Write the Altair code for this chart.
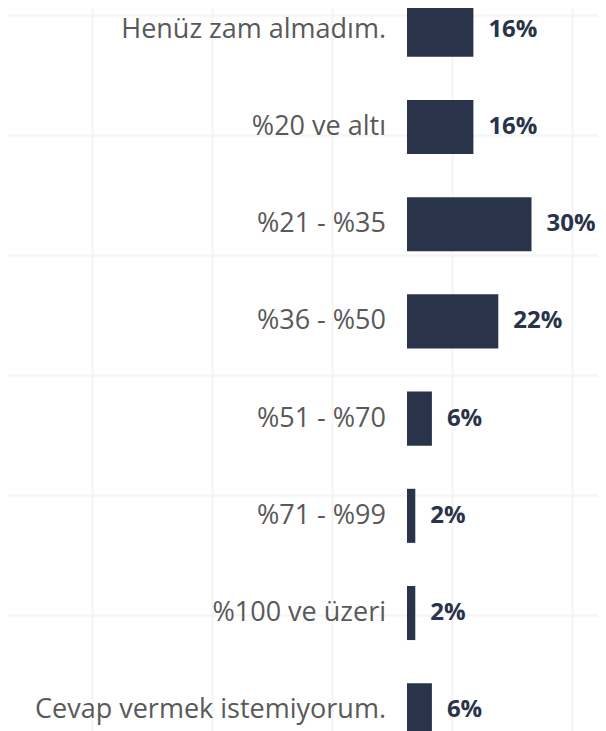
import altair as alt
import pandas as pd

categories = [
    "Henüz zam almadım.",
    "%20 ve altı",
    "%21 - %35",
    "%36 - %50",
    "%51 - %70",
    "%71 - %99",
    "%100 ve üzeri",
    "Cevap vermek istemiyorum.",
]
values = [16, 16, 30, 22, 6, 2, 2, 6]
value_labels = ["16%", "16%", "30%", "22%", "6%", "2%", "2%", "6%"]

# background grid (decorative square grid behind the chart)
grid_x = [92, 212, 332, 452, 572]
grid_y = [15, 135, 255, 375, 495, 615, 735]

W, H = 606, 740
ZERO_PX = 407
PX_PER_PCT = 4.15
x_dom = [-ZERO_PX / PX_PER_PCT, (W - ZERO_PX) / PX_PER_PCT]

BAR = "#29334a"

df = pd.DataFrame({"cat": categories, "val": values, "lab": value_labels, "zero": [0] * len(values)})
gdf = pd.DataFrame({"gx": grid_x[:1], "gy": grid_y[:1]})

grid = alt.Chart(gdf).mark_point(opacity=0).encode(
    x=alt.X("gx:Q", scale=alt.Scale(domain=[0, W], nice=False, zero=False),
            axis=alt.Axis(values=grid_x, grid=True, labels=False, ticks=False, domain=False,
                          title=None, gridColor="#f4f4f4", gridWidth=2)),
    y=alt.Y("gy:Q", scale=alt.Scale(domain=[0, H], nice=False, zero=False, reverse=True),
            axis=alt.Axis(values=grid_y, grid=True, labels=False, ticks=False, domain=False,
                          title=None, gridColor="#f4f4f4", gridWidth=2)),
)

yenc = alt.Y("cat:N", sort=categories,
             scale=alt.Scale(paddingInner=0.444, paddingOuter=0.028), axis=None)
xscale = alt.Scale(domain=x_dom, nice=False, zero=False)

base = alt.Chart(df)
bars = base.mark_bar(color=BAR).encode(
    y=yenc,
    x=alt.X("zero:Q", scale=xscale, axis=None),
    x2="val:Q",
)
cat_text = base.mark_text(align="right", baseline="middle", dx=-21, fontSize=27,
                          font="Open Sans", color="#595959").encode(
    y=yenc, x=alt.X("zero:Q", scale=xscale, axis=None), text="cat:N")
val_text = base.mark_text(align="left", baseline="middle", dx=15, fontSize=24,
                          font="Open Sans", fontWeight="bold", color=BAR).encode(
    y=yenc, x=alt.X("val:Q", scale=xscale, axis=None), text="lab:N")

data_layer = alt.layer(bars, cat_text, val_text)

chart = alt.layer(grid, data_layer).resolve_scale(x="independent", y="independent").properties(
    width=W, height=H,
    autosize=alt.AutoSizeParams(type="none"),
    padding={"left": -8, "top": -8, "right": -8, "bottom": -9},
    background="white",
).configure_view(stroke=None)

chart.save("out.html", embed_options={"renderer": "svg", "actions": False})
